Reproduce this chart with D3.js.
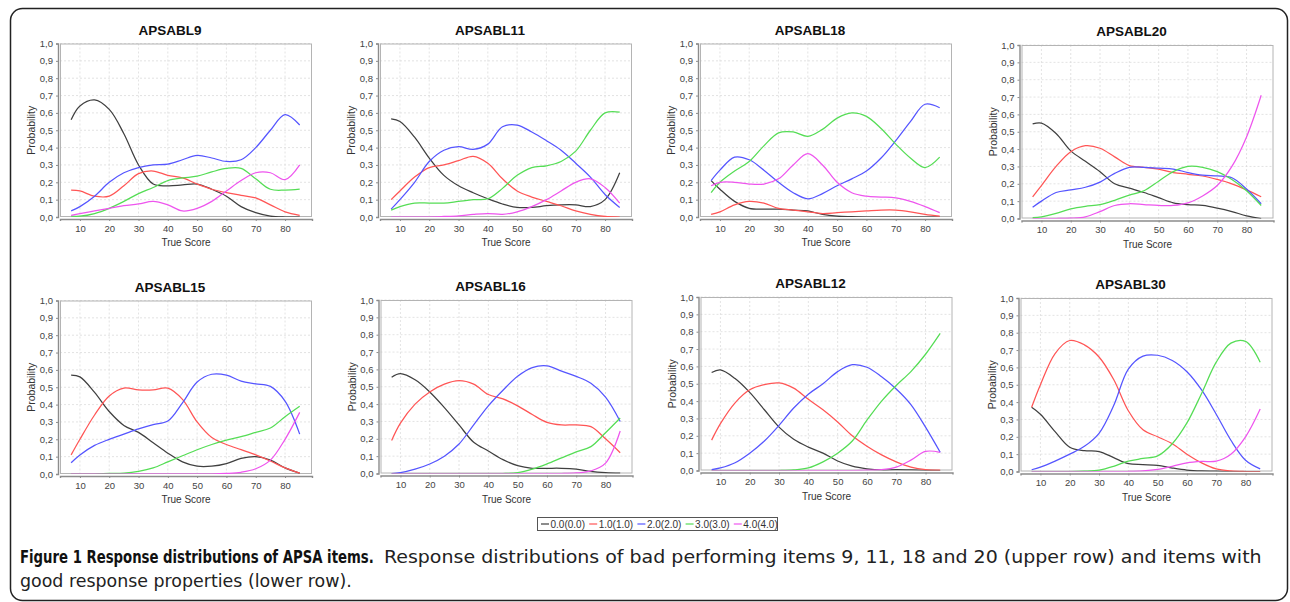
<!DOCTYPE html>
<html><head><meta charset="utf-8">
<script src="https://cdn.jsdelivr.net/npm/d3@7"></script>
<style>body{margin:0;background:#fff}svg{display:block}</style>
</head><body>
<svg id="c" width="1290" height="602"></svg>
<script>
// ---------- data ----------
const scores = [7,10,15,20,25,30,35,40,45,50,55,60,65,70,75,80,85];
const xTicks = [10,20,30,40,50,60,70,80];
const yTicks = [0,0.1,0.2,0.3,0.4,0.5,0.6,0.7,0.8,0.9,1.0];
const categories = ["0.0(0.0)","1.0(1.0)","2.0(2.0)","3.0(3.0)","4.0(4.0)"];
const titles = ["APSABL9","APSABL11","APSABL18","APSABL20","APSABL15","APSABL16","APSABL12","APSABL30"];

// APSABL9
const a9_0 = [0.56,0.64,0.675,0.62,0.48,0.30,0.19,0.18,0.185,0.19,0.16,0.12,0.06,0.025,0.005,0.0,0.0];
const a9_1 = [0.155,0.15,0.12,0.12,0.18,0.25,0.265,0.24,0.225,0.19,0.16,0.14,0.125,0.11,0.07,0.03,0.01];
const a9_2 = [0.035,0.06,0.12,0.2,0.255,0.285,0.3,0.305,0.33,0.355,0.34,0.32,0.33,0.4,0.5,0.59,0.53];
const a9_3 = [0.005,0.005,0.02,0.05,0.09,0.135,0.17,0.21,0.225,0.235,0.26,0.28,0.28,0.22,0.16,0.155,0.16];
const a9_4 = [0.01,0.02,0.035,0.05,0.065,0.075,0.09,0.07,0.035,0.05,0.09,0.15,0.21,0.255,0.255,0.215,0.3];
// APSABL11
const a11_0 = [0.565,0.55,0.46,0.34,0.24,0.18,0.14,0.105,0.075,0.055,0.055,0.065,0.07,0.07,0.06,0.1,0.255];
const a11_1 = [0.1,0.15,0.23,0.285,0.3,0.325,0.35,0.31,0.22,0.15,0.115,0.09,0.065,0.035,0.015,0.003,0.0];
const a11_2 = [0.045,0.1,0.2,0.32,0.385,0.405,0.39,0.42,0.52,0.53,0.49,0.44,0.385,0.31,0.23,0.13,0.055];
const a11_3 = [0.04,0.06,0.08,0.08,0.08,0.09,0.1,0.105,0.165,0.24,0.285,0.295,0.32,0.38,0.5,0.6,0.605];
const a11_4 = [0.0,0.0,0.0,0.0,0.003,0.007,0.015,0.02,0.015,0.03,0.06,0.1,0.15,0.2,0.22,0.17,0.08];
// APSABL18
const a18_0 = [0.21,0.16,0.09,0.05,0.045,0.045,0.04,0.035,0.015,0.005,0.002,0.0,0.0,0.0,0.0,0.0,0.0];
const a18_1 = [0.015,0.03,0.07,0.09,0.08,0.05,0.04,0.03,0.02,0.025,0.03,0.035,0.04,0.04,0.03,0.015,0.005];
const a18_2 = [0.21,0.27,0.345,0.33,0.27,0.2,0.14,0.105,0.135,0.18,0.22,0.265,0.34,0.44,0.55,0.65,0.63];
const a18_3 = [0.14,0.2,0.265,0.32,0.41,0.485,0.49,0.465,0.505,0.57,0.6,0.58,0.51,0.42,0.34,0.285,0.345];
const a18_4 = [0.18,0.2,0.2,0.19,0.19,0.22,0.3,0.365,0.3,0.2,0.14,0.12,0.115,0.11,0.09,0.06,0.025];
// APSABL20
const a20_0 = [0.545,0.55,0.49,0.39,0.33,0.27,0.2,0.175,0.15,0.12,0.09,0.08,0.075,0.06,0.04,0.015,0.0];
const a20_1 = [0.125,0.19,0.3,0.385,0.42,0.405,0.355,0.305,0.295,0.285,0.265,0.255,0.245,0.225,0.2,0.165,0.125];
const a20_2 = [0.065,0.1,0.15,0.165,0.18,0.21,0.26,0.295,0.295,0.29,0.285,0.265,0.25,0.245,0.235,0.17,0.085];
const a20_3 = [0.005,0.01,0.03,0.055,0.07,0.08,0.105,0.135,0.16,0.215,0.27,0.3,0.295,0.27,0.225,0.16,0.075];
const a20_4 = [0.0,0.0,0.0,0.002,0.01,0.04,0.075,0.085,0.08,0.075,0.075,0.09,0.13,0.19,0.3,0.47,0.71];
// APSABL15
const a15_0 = [0.57,0.56,0.47,0.36,0.28,0.24,0.18,0.12,0.07,0.045,0.045,0.06,0.09,0.1,0.08,0.035,0.005];
const a15_1 = [0.11,0.2,0.34,0.45,0.495,0.485,0.485,0.495,0.43,0.3,0.21,0.17,0.14,0.11,0.075,0.035,0.005];
const a15_2 = [0.065,0.11,0.165,0.2,0.23,0.26,0.285,0.305,0.41,0.53,0.575,0.57,0.535,0.52,0.505,0.42,0.23];
const a15_3 = [0.0,0.0,0.0,0.003,0.005,0.015,0.035,0.07,0.105,0.14,0.17,0.195,0.215,0.24,0.265,0.33,0.39];
const a15_4 = [0.0,0.0,0.0,0.0,0.0,0.0,0.0,0.0,0.0,0.0,0.0,0.003,0.01,0.03,0.08,0.2,0.355];
// APSABL16
const a16_0 = [0.555,0.575,0.54,0.47,0.38,0.28,0.18,0.13,0.08,0.045,0.03,0.03,0.03,0.025,0.012,0.005,0.002];
const a16_1 = [0.19,0.29,0.4,0.47,0.515,0.535,0.515,0.455,0.43,0.39,0.34,0.295,0.28,0.28,0.27,0.2,0.12];
const a16_2 = [0.0,0.005,0.025,0.055,0.1,0.17,0.28,0.39,0.48,0.56,0.61,0.62,0.59,0.56,0.52,0.44,0.3];
const a16_3 = [0.0,0.0,0.0,0.0,0.0,0.0,0.0,0.0,0.0,0.005,0.025,0.055,0.09,0.125,0.155,0.235,0.32];
const a16_4 = [0.0,0.0,0.0,0.0,0.0,0.0,0.0,0.0,0.0,0.0,0.0,0.0,0.0,0.003,0.015,0.06,0.245];
// APSABL12
const a12_0 = [0.565,0.58,0.53,0.45,0.35,0.25,0.18,0.135,0.1,0.055,0.025,0.01,0.003,0.005,0.003,0.001,0.0];
const a12_1 = [0.175,0.27,0.39,0.465,0.495,0.505,0.475,0.41,0.35,0.28,0.2,0.14,0.09,0.05,0.02,0.005,0.002];
const a12_2 = [0.005,0.015,0.045,0.1,0.17,0.26,0.36,0.44,0.5,0.57,0.61,0.595,0.54,0.47,0.38,0.25,0.105];
const a12_3 = [0.0,0.0,0.0,0.0,0.0,0.0,0.003,0.015,0.05,0.1,0.17,0.29,0.4,0.49,0.57,0.67,0.79];
const a12_4 = [0.0,0.0,0.0,0.0,0.0,0.0,0.0,0.0,0.0,0.0,0.0,0.002,0.005,0.02,0.06,0.11,0.105];
// APSABL30
const a30_0 = [0.37,0.33,0.23,0.14,0.12,0.115,0.08,0.045,0.04,0.035,0.02,0.008,0.003,0.002,0.0,0.0,0.0];
const a30_1 = [0.37,0.5,0.68,0.755,0.73,0.66,0.53,0.35,0.24,0.2,0.16,0.1,0.05,0.015,0.003,0.0,0.0];
const a30_2 = [0.01,0.025,0.06,0.1,0.145,0.22,0.38,0.59,0.665,0.67,0.64,0.575,0.47,0.33,0.18,0.065,0.015];
const a30_3 = [0.0,0.0,0.0,0.0,0.002,0.008,0.03,0.06,0.075,0.09,0.16,0.28,0.45,0.63,0.74,0.75,0.63];
const a30_4 = [0.0,0.0,0.0,0.0,0.0,0.0,0.0,0.0,0.003,0.012,0.03,0.05,0.058,0.06,0.1,0.2,0.36];

const panelSeries = [
  [a9_0,a9_1,a9_2,a9_3,a9_4],
  [a11_0,a11_1,a11_2,a11_3,a11_4],
  [a18_0,a18_1,a18_2,a18_3,a18_4],
  [a20_0,a20_1,a20_2,a20_3,a20_4],
  [a15_0,a15_1,a15_2,a15_3,a15_4],
  [a16_0,a16_1,a16_2,a16_3,a16_4],
  [a12_0,a12_1,a12_2,a12_3,a12_4],
  [a30_0,a30_1,a30_2,a30_3,a30_4]
];

// ---------- layout / style ----------
const colors = ["#404040","#ff5555","#5555ff","#55dd55","#ee55ee"];
const lefts = [60,380,700,1021.5, 60,380.5,700.5,1020.5];
const tops  = [43.5,43.5,43.5,45, 300.5,300,297,298];
const W = 252, H = 173.5;
const FONT = "'Liberation Sans', Arial, sans-serif";

const svg = d3.select("#c");
svg.append("rect").attr("x",10.5).attr("y",8.5).attr("width",1277).attr("height",592)
  .attr("rx",12).attr("fill","#fff").attr("stroke","#222").attr("stroke-width",1.5);

const loc = d3.formatLocale({decimal:",",thousands:".",grouping:[3],currency:["",""]});
const fmt = loc.format(".1f");

const x = d3.scaleLinear().domain([3.2,89.2]).range([0,W]);
const y = d3.scaleLinear().domain([0,1]).range([H,0]);

const defs = svg.append("defs");
defs.append("clipPath").attr("id","clip").append("rect")
  .attr("x",0).attr("y",0).attr("width",W).attr("height",H);

titles.forEach((t,i)=>{
  const g = svg.append("g").attr("transform",`translate(${lefts[i]},${tops[i]})`);
  g.append("rect").attr("width",W).attr("height",H).attr("fill","#fff");
  g.append("g").selectAll("line").data(xTicks).join("line")
    .attr("x1",d=>x(d)).attr("x2",d=>x(d)).attr("y1",0).attr("y2",H)
    .attr("stroke","#dcdcdc").attr("stroke-width",0.8).attr("stroke-dasharray","2,2");
  g.append("g").selectAll("line").data(yTicks.slice(1)).join("line")
    .attr("x1",0).attr("x2",W).attr("y1",d=>y(d)).attr("y2",d=>y(d))
    .attr("stroke","#dcdcdc").attr("stroke-width",0.8).attr("stroke-dasharray","2,2");
  g.append("rect").attr("x",0.5).attr("y",0.5).attr("width",W-1).attr("height",H-1)
    .attr("fill","none").attr("stroke","#b4b4b4").attr("stroke-width",1);
  const ya = g.append("g").attr("transform","translate(-2,0)")
    .call(d3.axisLeft(y).tickValues(yTicks).tickFormat(fmt).tickSize(2).tickPadding(3));
  const xa = g.append("g").attr("transform",`translate(0,${H+2})`)
    .call(d3.axisBottom(x).tickValues(xTicks).tickFormat(d3.format("d")).tickSize(2).tickPadding(4));
  [ya,xa].forEach(a=>{
    a.select(".domain").attr("stroke","#8c8c8c").attr("stroke-width",1.4);
    a.selectAll(".tick line").attr("stroke","#8c8c8c");
    a.selectAll(".tick text").attr("fill","#444").attr("font-size","9.5px").attr("font-family",FONT);
  });
  const line = d3.line().x((d,k)=>x(scores[k])).y(d=>y(d)).curve(d3.curveCatmullRom.alpha(0.5));
  const lg = g.append("g").attr("clip-path","url(#clip)");
  panelSeries[i].forEach((s,j)=>{
    lg.append("path").datum(s).attr("d",line).attr("fill","none")
      .attr("stroke",colors[j]).attr("stroke-width",1.25);
  });
  g.append("text").attr("x",110).attr("y",-9).attr("text-anchor","middle")
    .attr("font-family",FONT).attr("font-weight","bold").attr("font-size","13.5px")
    .attr("fill","#111").text(t);
  g.append("text").attr("x",W/2).attr("y",H+29).attr("text-anchor","middle")
    .attr("font-family",FONT).attr("font-size","10px").attr("fill","#333").text("True Score");
  g.append("text").attr("transform",`translate(-25,${H/2}) rotate(-90)`).attr("text-anchor","middle")
    .attr("font-family",FONT).attr("font-size","10.5px").attr("fill","#333").text("Probability");
});

// legend
const lgd = svg.append("g").attr("transform","translate(537,517)");
lgd.append("rect").attr("x",0.5).attr("y",0.5).attr("width",240).attr("height",13)
  .attr("fill","#fff").attr("stroke","#555").attr("stroke-width",1);
categories.forEach((c,j)=>{
  const it = lgd.append("g").attr("transform",`translate(${4+j*48.2},0)`);
  it.append("line").attr("x1",0).attr("x2",8).attr("y1",7).attr("y2",7)
    .attr("stroke",colors[j]).attr("stroke-width",1.2);
  it.append("text").attr("x",9.5).attr("y",10.6).attr("font-family",FONT)
    .attr("font-size","10px").attr("fill","#333").text(c);
});

// caption: each piece horizontally scaled to fit its measured span
const CF = "'Liberation Sans Narrow','DejaVu Sans Condensed','Open Sans',sans-serif";
function fitText(str, x0, yb, width, bold, color){
  const g = svg.append("g");
  const t = g.append("text").attr("x",0).attr("y",0).attr("font-family",CF)
    .attr("font-size","18px").attr("fill",color).attr("font-weight",bold?"bold":"normal").text(str);
  const w = t.node().getComputedTextLength();
  g.attr("transform",`translate(${x0},${yb}) scale(${width/w},1)`);
}
fitText("Figure 1 Response distributions of APSA items.", 20, 563, 354, true, "#111");
fitText("Response distributions of bad performing items 9, 11, 18 and 20 (upper row) and items with", 384, 563, 878, false, "#222");
fitText("good response properties (lower row).", 20, 587, 332, false, "#222");
</script>
</body></html>
